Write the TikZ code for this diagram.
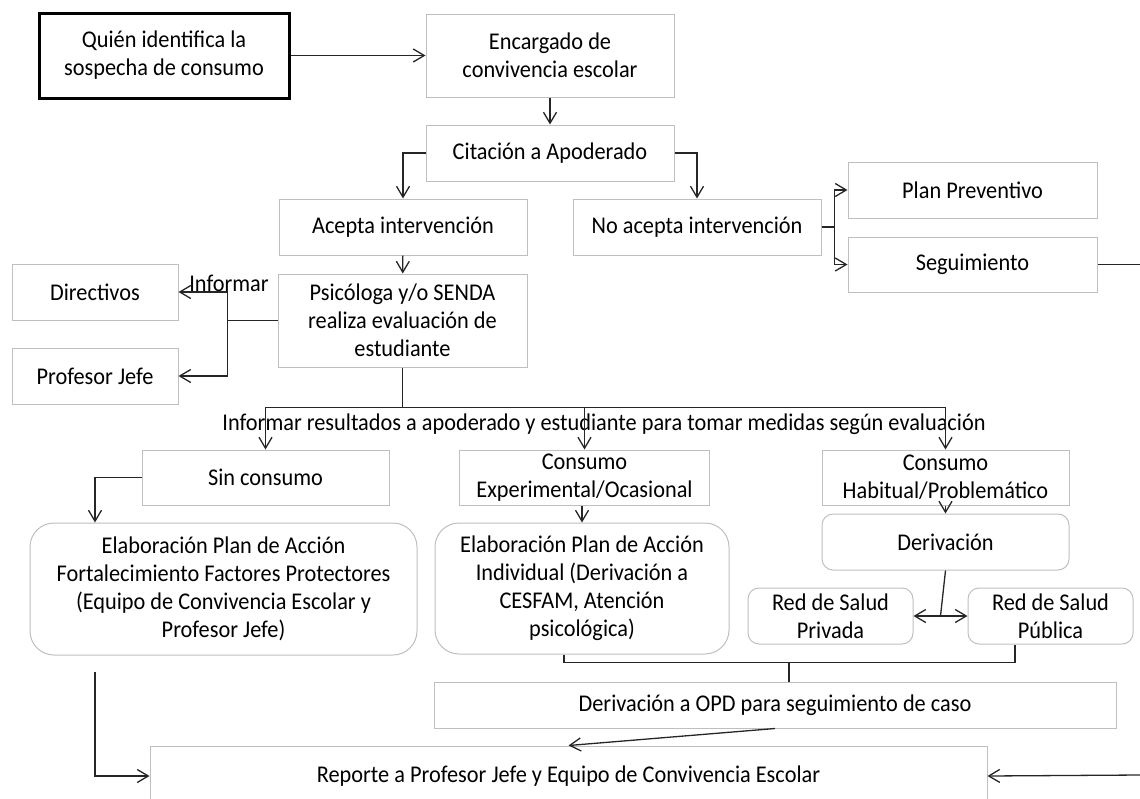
\documentclass[tikz,border=0pt]{standalone}
\usepackage{fontspec}
\setmainfont{Carlito}[FakeStretch = 0.93]
\usetikzlibrary{arrows.meta, calc}
\definecolor{gris}{HTML}{BFBFBF}
\definecolor{oscuro}{HTML}{262626}

\begin{document}
\begin{tikzpicture} [x = 1pt, y = -1pt,
  caja/.style = {draw = gris, line width = 1pt, align = center, inner sep = 0pt, text = black, font = \fontsize{24}{28}\selectfont},
  redonda/.style = {caja, rounded corners = 11pt},
  texto/.style = {inner sep = 0pt, text = black, font = \fontsize{24}{28}\selectfont},
  conector/.style = {draw = oscuro, line width = 1.3pt},
  flecha/.style = {conector, -{Straight Barb[length = 11pt, width = 13pt]}},
  doble/.style = {conector, {Straight Barb[length = 11pt, width = 13pt]}-{Straight Barb[length = 11pt, width = 13pt]}}]
\useasboundingbox (0, 0) rectangle (1140, 798);
\clip (0, 0) rectangle (1140, 798);
\node[caja, draw = black, line width = 3pt, minimum width = 250pt, minimum height = 85pt] (quien) at (164, 55.5){Quién identifica la\\sospecha de consumo};
\node[caja, minimum width = 248pt, minimum height = 83pt] (encargado) at (550, 55.5){Encargado de\\convivencia escolar};
\node[caja, minimum width = 248pt, minimum height = 56pt] (citacion) at (550, 153){Citación a Apoderado};
\node[caja, minimum width = 248pt, minimum height = 56pt] (acepta) at (403, 227){Acepta intervención};
\node[caja, minimum width = 248pt, minimum height = 56pt] (noacepta) at (697, 227){No acepta intervención};
\node[caja, minimum width = 249pt, minimum height = 56pt] (plan) at (972.5, 190){Plan Preventivo};
\node[caja, minimum width = 249pt, minimum height = 55pt] (seguim) at (972.5, 264.5){Seguimiento};
\node[caja, minimum width = 249pt, minimum height = 93pt] (psico) at (402.5, 320.5){Psicóloga y/o SENDA\\realiza evaluación de\\estudiante};
\node[caja, minimum width = 166pt, minimum height = 56pt] (directivos) at (95, 292){Directivos};
\node[caja, minimum width = 166pt, minimum height = 56pt] (profjefe) at (95, 376){Profesor Jefe};
\node[texto] (informar) at (229, 283){Informar};
\node[texto] (resultados) at (604, 424){Informar resultados a apoderado y estudiante para tomar medidas según evaluación};
\node[caja, minimum width = 247pt, minimum height = 55pt] (sincons) at (265.5, 477.5){Sin consumo};
\node[caja, minimum width = 250pt, minimum height = 55pt] (consexp) at (584.5, 477.5){Consumo\\Experimental/Ocasional};
\node[caja, minimum width = 247pt, minimum height = 55pt] (conshab) at (945.5, 477.5){Consumo\\Habitual/Problemático};
\node[redonda, rounded corners = 24pt, minimum width = 387pt, minimum height = 132pt] (elabfort) at (223.5, 589){Elaboración Plan de Acción\\Fortalecimiento Factores Protectores\\(Equipo de Convivencia Escolar y\\Profesor Jefe)};
\node[redonda, rounded corners = 24pt, minimum width = 294pt, minimum height = 131pt] (elabind) at (582, 588.5){Elaboración Plan de Acción\\Individual (Derivación a\\CESFAM, Atención\\psicológica)};
\node[redonda, minimum width = 247pt, minimum height = 56pt] (deriv) at (945.5, 542){Derivación};
\node[redonda, minimum width = 165pt, minimum height = 56pt] (redpriv) at (830.5, 616){Red de Salud\\Privada};
\node[redonda, minimum width = 165pt, minimum height = 56pt] (redpub) at (1050.5, 616){Red de Salud\\Pública};
\node[caja, minimum width = 682pt, minimum height = 46pt] (opd) at (775, 705){Derivación a OPD para seguimiento de caso};
\node[caja, minimum width = 837pt, minimum height = 60pt] (reporte) at (568.5, 776){Reporte a Profesor Jefe y Equipo de Convivencia Escolar};
\coordinate (borde) at (1140, 775);
\coordinate (izq) at (95, 672);
\draw[flecha] (quien.east) -- (encargado.west);
\draw[flecha] (encargado) -- (citacion);
\draw[flecha] (citacion.west) -| (acepta.north);
\draw[flecha] (citacion.east) -| (noacepta.north);
\draw[conector] (noacepta.east) -- ++(13, 0) coordinate (rama);
\draw[flecha] (rama) |- (plan.west);
\draw[flecha] (rama) |- (seguim.west);
\draw[conector] (seguim.east) -- (seguim.east -| borde);
\draw[flecha] (acepta) -- (psico);
\draw[conector] (psico.west) -- ++(-50, 0) coordinate (informa);
\draw[flecha] (informa) |- (directivos.east);
\draw[flecha] (informa) |- (profjefe.east);
\draw[conector] (psico.south) -- ++(0, 40) coordinate (reparte);
\draw[flecha] (reparte) -| (sincons.north);
\draw[flecha] (reparte) -| (consexp.north);
\draw[flecha] (reparte) -| (conshab.north);
\draw[flecha] (sincons.west) -| (izq |- elabfort.north);
\draw[flecha] (consexp.south -| elabind.north) -- (elabind.north);
\draw[flecha] (conshab) -- (deriv);
\draw[doble] (redpriv) -- (redpub);
\draw[conector] (deriv.south) -- ($(redpriv.east)!0.5!(redpub.west)$);
\draw[conector] ([xshift = -18pt]elabind.south) -- ++(0, 8) -| ([xshift = -35.5pt]redpub.south);
\draw[conector] ([xshift = 14pt]opd.north) -- ++(0, -20);
\draw[flecha] (opd.south) -- (reporte.north);
\draw[flecha] (izq) |- (reporte.west);
\draw[flecha] (borde) -- (reporte.east);
\end{tikzpicture}
\end{document}
